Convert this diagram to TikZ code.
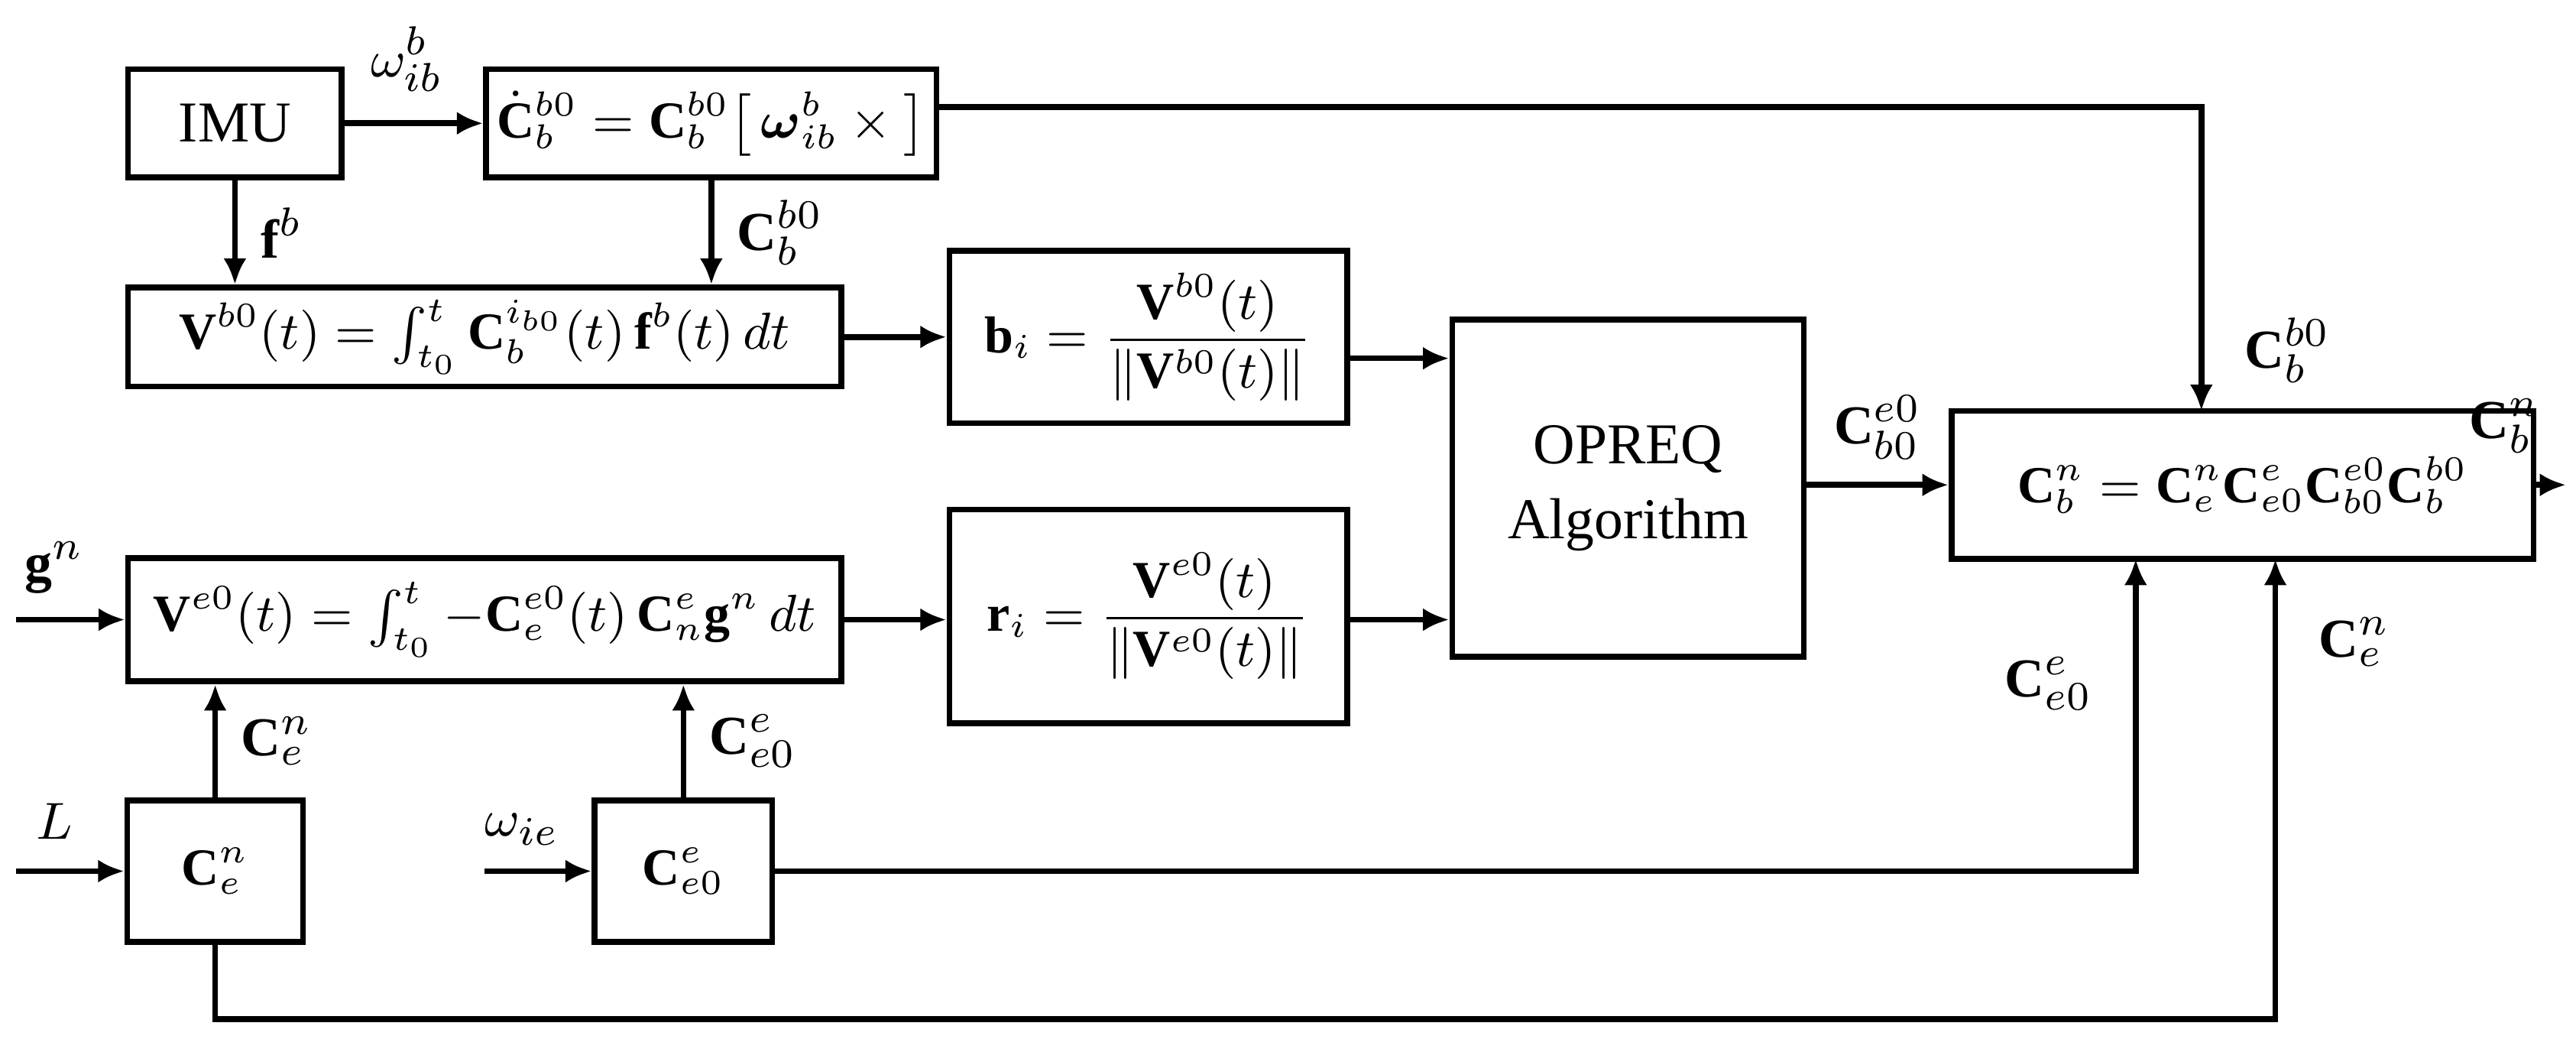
\documentclass[tikz,border=0pt]{standalone}
\usepackage{amsmath}
\usepackage{fontspec}
\setmainfont{Liberation Serif}
\usetikzlibrary{arrows.meta}
\tikzset{
  blk/.style={draw, line width=1pt, inner sep=0pt, font=\fontsize{9}{11}\selectfont},
  sig/.style={line width=1pt, -{Latex[length=1.6mm,width=1.4mm]}},
  lbl/.style={font=\fontsize{9.5}{11}\selectfont, inner sep=1pt}
}
\newcommand{\bC}{\mathbf{C}}
\newcommand{\bV}{\mathbf{V}}
\begin{document}
\begin{tikzpicture}[x=0.01cm,y=-0.01cm]
  \useasboundingbox (0,0) rectangle (1568,632);
  % blocks
  \node[blk, minimum width=1.3cm, minimum height=0.66cm, font=\fontsize{10}{12}\selectfont] (imu) at (143,75) {IMU};
  \node[blk, minimum width=2.74cm, minimum height=0.66cm] (dyn) at (433,75)
    {$\dot{\bC}_b^{b0}=\bC_b^{b0}\big[\,\boldsymbol{\omega}_{ib}^b\times\big]$};
  \node[blk, minimum width=4.34cm, minimum height=0.6cm] (vb) at (295,205)
    {$\bV^{b0}(t)=\int_{t_0}^{t}\bC_b^{i_{b0}}(t)\,\mathbf{f}^b(t)\,dt$};
  \node[blk, minimum width=2.42cm, minimum height=1.05cm] (bi) at (699,205)
    {$\mathbf{b}_i=\dfrac{\bV^{b0}(t)}{\left\|\bV^{b0}(t)\right\|}$};
  \node[blk, minimum width=4.34cm, minimum height=0.75cm] (ve) at (295,377)
    {$\bV^{e0}(t)=\int_{t_0}^{t}-\bC_e^{e0}(t)\,\bC_n^e\mathbf{g}^n\,dt$};
  \node[blk, minimum width=2.42cm, minimum height=1.3cm] (ri) at (699,375)
    {$\mathbf{r}_i=\dfrac{\bV^{e0}(t)}{\left\|\bV^{e0}(t)\right\|}$};
  \node[blk, minimum width=2.14cm, minimum height=2.05cm, align=center, font=\fontsize{10}{13}\selectfont] (opr) at (991,297)
    {OPREQ\\Algorithm};
  \node[blk, minimum width=3.54cm, minimum height=0.9cm] (fin) at (1365,295)
    {$\bC_b^n=\bC_e^n\bC_{e0}^e\bC_{b0}^{e0}\bC_b^{b0}$};
  \node[blk, minimum width=1.07cm, minimum height=0.86cm] (cen) at (131,530) {$\bC_e^n$};
  \node[blk, minimum width=1.08cm, minimum height=0.86cm] (cee) at (416,530) {$\bC_{e0}^e$};
  % free ends
  \coordinate (gin) at (10,377);
  \coordinate (lin) at (10,530);
  \coordinate (win) at (295,530);
  \coordinate (out) at (1562,295);
  % signals
  \draw[sig] (imu.east) -- (dyn.west) node[lbl, pos=0.45, above=4pt] {$\omega_{ib}^b$};
  \draw[sig] (imu.south) -- (imu.south |- vb.north) node[lbl, midway, right=3pt] {$\mathbf{f}^b$};
  \draw[sig] (dyn.south) -- (dyn.south |- vb.north) node[lbl, midway, right=3pt] {$\bC_b^{b0}$};
  \draw[sig] (dyn.east |- 0,65) -| (1340,250) node[lbl, pos=0.9, right=6pt] {$\bC_b^{b0}$};
  \draw[sig] (vb.east |- bi.west) -- (bi.west);
  \draw[sig] (bi.east |- 0,218) -- (opr.west |- 0,218);
  \draw[sig] (gin) -- (ve.west) node[lbl, pos=0.35, above=3pt] {$\mathbf{g}^n$};
  \draw[sig] (ve.east) -- (ri.west |- ve.east);
  \draw[sig] (ri.east |- 0,377) -- (opr.west |- 0,377);
  \draw[sig] (opr.east |- fin.west) -- (fin.west) node[lbl, midway, above=3pt] {$\bC_{b0}^{e0}$};
  \draw[sig] (fin.east) -- (out) node[lbl, midway, above=4pt, xshift=-8pt] {$\bC_b^n$};
  \draw[sig] (lin) -- (cen.west) node[lbl, pos=0.35, above=4pt] {$L$};
  \draw[sig] (win) -- (cee.west) node[lbl, pos=0.35, above=3pt] {$\omega_{ie}$};
  \draw[sig] (cen.north) -- (cen.north |- ve.south) node[lbl, midway, right=3pt] {$\bC_e^n$};
  \draw[sig] (cee.north) -- (cee.north |- ve.south) node[lbl, midway, right=3pt] {$\bC_{e0}^e$};
  \draw[sig] (cee.east) -| (1300,340) node[lbl, pos=0.8, left=6pt] {$\bC_{e0}^e$};
  \draw[sig] (cen.south) |- (1385,620) -- (1385,340) node[lbl, pos=0.82, right=6pt] {$\bC_e^n$};
\end{tikzpicture}
\end{document}
